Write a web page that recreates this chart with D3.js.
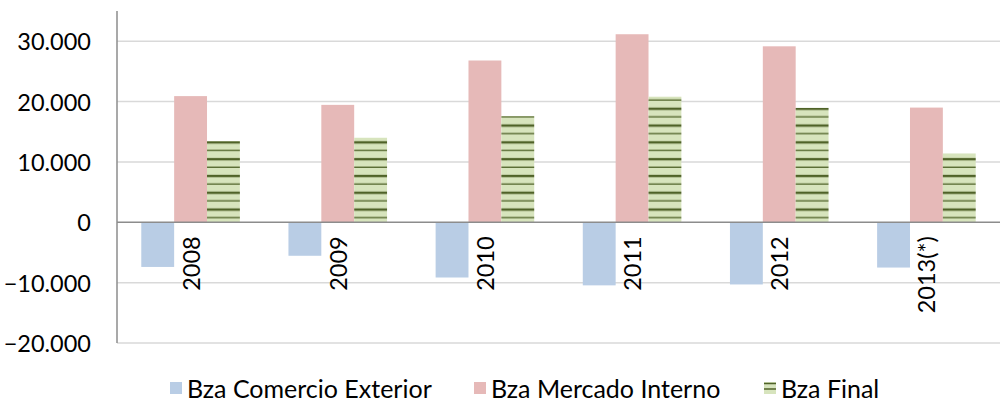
<!DOCTYPE html>
<html>
<head>
<meta charset="utf-8">
<script src="https://cdnjs.cloudflare.com/ajax/libs/d3/7.8.5/d3.min.js"></script>
<style>
  body { margin: 0; background: #fff; }
  svg text { font-family: Lato, "Open Sans", sans-serif; fill: #000; }
</style>
</head>
<body>
<div id="chart"></div>
<script>
const years = ["2008", "2009", "2010", "2011", "2012", "2013(*)"];
const seriesNames = ["Bza Comercio Exterior", "Bza Mercado Interno", "Bza Final"];
const comercioExterior = [-7400, -5550, -9150, -10450, -10300, -7500];
const mercadoInterno = [20900, 19450, 26800, 31150, 29150, 19000];
const bzaFinal = [13450, 14000, 17600, 20800, 18950, 11400];
const yTicks = [-20000, -10000, 0, 10000, 20000, 30000];

const W = 1003, H = 405;
const plot = { left: 117, right: 1000, top: 11, bottom: 343 };

const svg = d3.select("#chart").append("svg")
  .attr("width", W)
  .attr("height", H);

// striped pattern for Bza Final
const defs = svg.append("defs");
const pat = defs.append("pattern")
  .attr("id", "stripes")
  .attr("patternUnits", "userSpaceOnUse")
  .attr("width", 10)
  .attr("height", 16.8)
  .attr("y", 0);
pat.append("rect").attr("width", 10).attr("height", 16.8).attr("fill", "#d7e4bd");
pat.append("rect").attr("y", 6.8).attr("width", 10).attr("height", 2.4).attr("fill", "#4f6228");
pat.append("rect").attr("y", 15.4).attr("width", 10).attr("height", 1.3).attr("fill", "#4f6228");

const y = d3.scaleLinear()
  .domain([-20000, 35000])
  .range([plot.bottom, plot.top]);

const x0 = d3.scaleBand()
  .domain(years)
  .range([plot.left, plot.right])
  .paddingInner(0.33)
  .paddingOuter(0.165);

const x1 = d3.scaleBand()
  .domain(seriesNames)
  .range([0, x0.bandwidth()]);

const fmt = v => d3.format(",")(v).replace(/,/g, ".");

// gridlines
svg.append("g")
  .selectAll("line")
  .data(yTicks.filter(d => d !== 0))
  .join("line")
    .attr("x1", plot.left)
    .attr("x2", plot.right)
    .attr("y1", d => y(d))
    .attr("y2", d => y(d))
    .attr("stroke", "#d9d9d9")
    .attr("stroke-width", 1.5);

// tick labels
svg.append("g")
  .selectAll("text")
  .data(yTicks)
  .join("text")
    .attr("x", 91)
    .attr("y", d => y(d))
    .attr("text-anchor", "end")
    .attr("dominant-baseline", "central")
    .style("font-size", "23.5px")
    .text(d => fmt(d));

const series = [
  { name: seriesNames[0], values: comercioExterior, fill: "#b9cde5" },
  { name: seriesNames[1], values: mercadoInterno, fill: "#e6b9b8" },
  { name: seriesNames[2], values: bzaFinal, fill: "url(#stripes)" }
];

const groups = svg.append("g")
  .selectAll("g")
  .data(series)
  .join("g")
    .attr("fill", d => d.fill);

groups.selectAll("rect")
  .data(s => s.values.map((v, i) => ({ year: years[i], value: v, name: s.name })))
  .join("rect")
    .attr("x", d => x0(d.year) + x1(d.name))
    .attr("width", x1.bandwidth())
    .attr("y", d => y(Math.max(0, d.value)))
    .attr("height", d => Math.abs(y(d.value) - y(0)));

// zero line
svg.append("line")
  .attr("x1", plot.left)
  .attr("x2", plot.right)
  .attr("y1", y(0))
  .attr("y2", y(0))
  .attr("stroke", "#8c8c8c")
  .attr("stroke-width", 1.5);

// y axis line
svg.append("line")
  .attr("x1", plot.left)
  .attr("x2", plot.left)
  .attr("y1", plot.top)
  .attr("y2", plot.bottom)
  .attr("stroke", "#8c8c8c")
  .attr("stroke-width", 1.5);

// category labels, rotated
svg.append("g")
  .selectAll("text")
  .data(years)
  .join("text")
    .attr("transform", d => `translate(${x0(d) + x0.bandwidth() / 2},${y(0) + 14}) rotate(-90)`)
    .attr("text-anchor", "end")
    .attr("dominant-baseline", "central")
    .style("font-size", "23.5px")
    .text(d => d);

// legend
const legendX = [170, 474, 764];
const legend = svg.append("g")
  .selectAll("g")
  .data(series)
  .join("g")
    .attr("transform", (d, i) => `translate(${legendX[i]},388)`);

legend.append("rect")
  .attr("x", 0)
  .attr("y", -6)
  .attr("width", 12)
  .attr("height", 12)
  .attr("fill", d => d.fill === "url(#stripes)" ? "#d7e4bd" : d.fill);

legend.filter(d => d.fill === "url(#stripes)")
  .selectAll("line")
  .data([-4.5, 1])
  .join("line")
    .attr("x1", 0)
    .attr("x2", 12)
    .attr("y1", d => d)
    .attr("y2", d => d)
    .attr("stroke", "#4f6228")
    .attr("stroke-width", 1.5);

legend.append("text")
  .attr("x", 17)
  .attr("y", 0)
  .attr("dominant-baseline", "central")
  .style("font-size", "25px")
  .text(d => d.name);
</script>
</body>
</html>
